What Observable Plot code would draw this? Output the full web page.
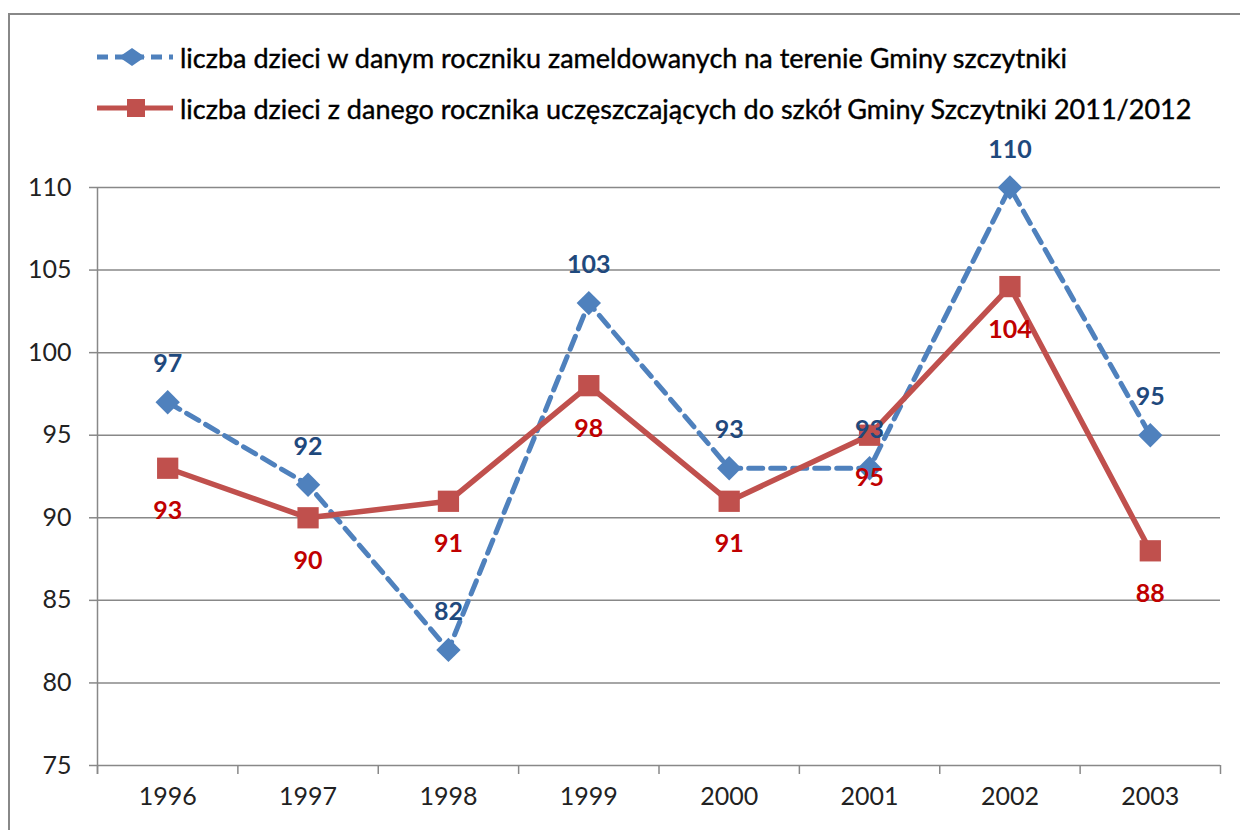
<!DOCTYPE html>
<html><head><meta charset="utf-8">
<script src="https://cdn.jsdelivr.net/npm/d3@7"></script>
<script src="https://cdn.jsdelivr.net/npm/@observablehq/plot@0.6"></script>
<style>
body{margin:0;background:#fff;font-family:Lato,"Open Sans",sans-serif;}
#wrap{position:relative;width:1240px;height:830px;overflow:hidden;background:#fff;}
#frame{position:absolute;left:8px;top:13px;width:1300px;height:900px;border-left:2px solid #888;border-top:2px solid #888;}
.leg{position:absolute;left:95px;height:30px;display:flex;align-items:center;font-weight:normal;font-size:27px;color:#000;white-space:nowrap;-webkit-text-stroke:0.4px #000;}
.leg svg{margin-right:5px;}
#chart{position:absolute;left:0;top:120px;}
</style></head>
<body>
<div id="wrap">
<div id="frame"></div>
<div class="leg" style="top:42px"><svg width="80" height="30"><line x1="2" y1="15" x2="78" y2="15" stroke="#4F81BD" stroke-width="5" stroke-dasharray="11 7"/><path d="M37,6 L50,15 L37,24 L24,15 Z" fill="#4F81BD"/></svg><span id="l1"></span></div>
<div class="leg" style="top:93px"><svg width="80" height="30"><line x1="2" y1="15" x2="78" y2="15" stroke="#C0504D" stroke-width="5"/><rect x="32" y="6" width="18" height="18" fill="#C0504D"/></svg><span id="l2"></span></div>
<div id="chart"></div>
</div>
<script>
const years = [1996, 1997, 1998, 1999, 2000, 2001, 2002, 2003];
const registered = [97, 92, 82, 103, 93, 93, 110, 95];
const attending = [93, 90, 91, 98, 91, 95, 104, 88];
const seriesNames = [
  "liczba dzieci w danym roczniku zameldowanych na terenie Gminy szczytniki",
  "liczba dzieci z danego rocznika uczęszczających do szkół Gminy Szczytniki 2011/2012"
];
const yTicks = [75, 80, 85, 90, 95, 100, 105, 110];

document.getElementById("l1").textContent = seriesNames[0];
document.getElementById("l2").textContent = seriesNames[1];

const blue = years.map((y, i) => ({year: y, v: registered[i]}));
const red = years.map((y, i) => ({year: y, v: attending[i]}));
const bounds = years.map(y => y - 0.5).concat([years[years.length - 1] + 0.5]);

const chart = Plot.plot({
  width: 1240,
  height: 710,
  marginLeft: 97,
  marginRight: 20,
  marginTop: 67,
  marginBottom: 65,
  style: {fontFamily: "Lato, 'Open Sans', sans-serif", fontSize: "25px", color: "#222", background: "transparent"},
  x: {type: "linear", domain: [bounds[0], bounds[bounds.length - 1]]},
  y: {domain: [75, 110]},
  marks: [
    Plot.gridY(yTicks, {stroke: "#888", strokeOpacity: 1, strokeWidth: 1.5}),
    Plot.axisY(yTicks, {tickSize: 8, tickPadding: 18, stroke: "#888", strokeWidth: 1.5, fill: "#222", fontSize: 25, label: null}),
    Plot.ruleX([bounds[0]], {stroke: "#888", strokeWidth: 1.5, y1: 110, y2: 75, insetBottom: -9}),
    Plot.axisX(bounds, {tickSize: 9, stroke: "#888", strokeWidth: 1.5, tickFormat: () => "", label: null}),
    Plot.axisX(years, {tickSize: 0, tickPadding: 22, tickFormat: d => String(d), fill: "#222", fontSize: 25, label: null}),
    Plot.line(blue, {x: "year", y: "v", stroke: "#4F81BD", strokeWidth: 5, strokeDasharray: "14 8"}),
    Plot.line(red, {x: "year", y: "v", stroke: "#C0504D", strokeWidth: 5.5}),
    Plot.dot(blue, {x: "year", y: "v", symbol: "diamond2", r: 11, fill: "#4F81BD", stroke: "none"}),
    Plot.dot(red, {x: "year", y: "v", symbol: "square", r: 12, fill: "#C0504D", stroke: "none"}),
    Plot.text(blue, {x: "year", y: "v", text: d => String(d.v), dy: -38, fill: "#1F497D", fontWeight: "bold", fontSize: 25}),
    Plot.text(red, {x: "year", y: "v", text: d => String(d.v), dy: 43, fill: "#C00000", fontWeight: "bold", fontSize: 25})
  ]
});
document.getElementById("chart").appendChild(chart);
</script>
</body></html>
